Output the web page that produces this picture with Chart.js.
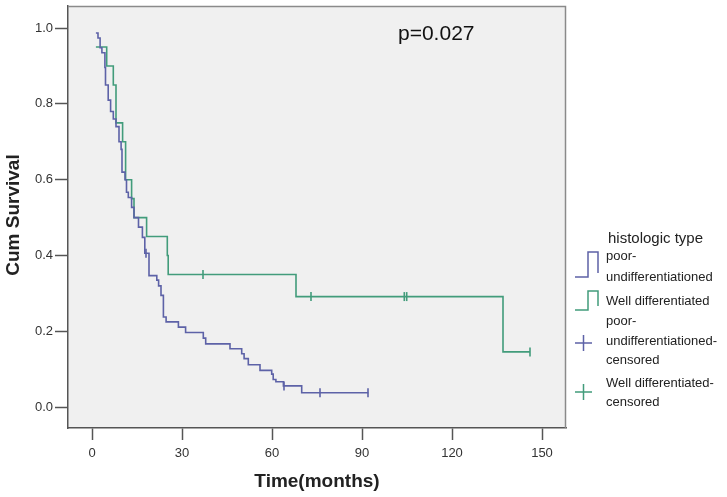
<!DOCTYPE html>
<html>
<head>
<meta charset="utf-8">
<script src="https://cdn.jsdelivr.net/npm/chart.js@4/dist/chart.umd.min.js"></script>
<style>
  html, body { margin: 0; padding: 0; background: #fff; }
  #wrap { width: 727px; height: 497px; }
</style>
</head>
<body>
<div id="wrap"><canvas id="km" width="727" height="497"></canvas></div>
<script>
// Kaplan-Meier steps (time in months, cumulative survival after the drop)
const poorTimes = [1.3, 2.0, 2.7, 3.3, 4.3, 4.5, 5.4, 6.2, 7.1, 8.0, 9.0, 9.7, 10.0, 11.0, 11.5, 12.1, 13.2, 14.0,
  15.5, 16.8, 17.6, 19.0, 21.6, 22.2, 23.0, 23.8, 24.7, 28.8, 31.2, 37.1, 37.9, 46.0, 49.9, 50.7, 52.1,
  56.0, 59.9, 60.4, 61.3, 63.8, 69.9, 92.1];
const poorSurvival = [0.987, 0.974, 0.948, 0.935, 0.896, 0.85, 0.81, 0.78, 0.76, 0.74, 0.70, 0.68, 0.62, 0.60, 0.567, 0.553, 0.527, 0.50,
  0.475, 0.448, 0.406, 0.347, 0.335, 0.32, 0.295, 0.238, 0.225, 0.211, 0.197, 0.182, 0.167, 0.154, 0.141, 0.128, 0.112,
  0.097, 0.087, 0.073, 0.067, 0.056, 0.038, 0.038];

const wellTimes = [1.3, 4.9, 7.1, 8.0, 10.2, 11.2, 13.2, 14.0, 18.2, 25.1, 25.4, 68.0, 137.0, 146.0];
const wellSurvival = [0.95, 0.90, 0.85, 0.75, 0.70, 0.60, 0.55, 0.50, 0.45, 0.40, 0.35, 0.2917, 0.1458, 0.1458];

const poorCensorTimes = [18, 64, 76, 92];
const poorCensorSurvival = [0.406, 0.056, 0.038, 0.038];
const wellCensorTimes = [37, 73, 104.1, 104.9, 146];
const wellCensorSurvival = [0.35, 0.2917, 0.2917, 0.2917, 0.1458];

const xTicks = [0, 30, 60, 90, 120, 150];
const yTicks = [0.0, 0.2, 0.4, 0.6, 0.8, 1.0];

const poorColor = '#5d62a7';
const wellColor = '#429c7b';

function pts(xs, ys) {
  return xs.map((x, i) => ({ x: x, y: ys[i] }));
}

const plotBg = {
  id: 'plotBg',
  beforeDraw(chart) {
    const a = chart.chartArea, ctx = chart.ctx;
    ctx.save();
    ctx.fillStyle = '#f0f0f0';
    ctx.fillRect(a.left, a.top, a.right - a.left, a.bottom - a.top);
    ctx.restore();
  },
  afterDraw(chart) {
    const a = chart.chartArea, ctx = chart.ctx;
    ctx.save();
    // frame top / right
    ctx.strokeStyle = '#8a8a8a';
    ctx.lineWidth = 1.5;
    ctx.beginPath();
    ctx.moveTo(a.left, a.top + 0.5);
    ctx.lineTo(a.right - 0.5, a.top + 0.5);
    ctx.lineTo(a.right - 0.5, a.bottom);
    ctx.stroke();

    // p value
    ctx.fillStyle = '#111';
    ctx.font = '21px "Liberation Sans", Arial, sans-serif';
    ctx.textBaseline = 'middle';
    ctx.textAlign = 'left';
    ctx.fillText('p=0.027', 398, 34);

    // axis titles
    ctx.font = 'bold 19px "Liberation Sans", Arial, sans-serif';
    ctx.fillStyle = '#222';
    ctx.textAlign = 'center';
    ctx.fillText('Time(months)', (a.left + a.right) / 2, 482);
    ctx.save();
    ctx.translate(14, 215);
    ctx.rotate(-Math.PI / 2);
    ctx.fillText('Cum Survival', 0, 0);
    ctx.restore();

    // legend
    ctx.textAlign = 'left';
    ctx.fillStyle = '#222';
    ctx.font = '15px "Liberation Sans", Arial, sans-serif';
    ctx.fillText('histologic type', 608, 239);
    ctx.font = '13px "Liberation Sans", Arial, sans-serif';
    const stepIcon = (color, top, bottom) => {
      ctx.strokeStyle = color;
      ctx.lineWidth = 1.5;
      ctx.beginPath();
      ctx.moveTo(575, bottom);
      ctx.lineTo(588, bottom);
      ctx.lineTo(588, top);
      ctx.lineTo(598, top);
      ctx.lineTo(598, bottom - 4);
      ctx.stroke();
    };
    const plusIcon = (color, cy) => {
      ctx.strokeStyle = color;
      ctx.lineWidth = 1.5;
      ctx.beginPath();
      ctx.moveTo(575, cy);
      ctx.lineTo(592, cy);
      ctx.moveTo(583.5, cy - 8);
      ctx.lineTo(583.5, cy + 8);
      ctx.stroke();
    };
    stepIcon(poorColor, 252, 277);
    ctx.fillText('poor-', 606, 256);
    ctx.fillText('undifferentiationed', 606, 277);
    stepIcon(wellColor, 291, 310);
    ctx.fillText('Well differentiated', 606, 301);
    plusIcon(poorColor, 343);
    ctx.fillText('poor-', 606, 321);
    ctx.fillText('undifferentiationed-', 606, 341);
    ctx.fillText('censored', 606, 360);
    plusIcon(wellColor, 392);
    ctx.fillText('Well differentiated-', 606, 383);
    ctx.fillText('censored', 606, 402);
    ctx.restore();
  }
};

new Chart(document.getElementById('km'), {
  type: 'scatter',
  data: {
    datasets: [
      {
        label: 'poor-undifferentiationed',
        data: pts(poorTimes, poorSurvival),
        showLine: true,
        stepped: 'before',
        borderColor: poorColor,
        borderWidth: 1.6,
        pointRadius: 0
      },
      {
        label: 'Well differentiated',
        data: pts(wellTimes, wellSurvival),
        showLine: true,
        stepped: 'before',
        borderColor: wellColor,
        borderWidth: 1.6,
        pointRadius: 0
      },
      {
        label: 'poor-undifferentiationed-censored',
        data: pts(poorCensorTimes, poorCensorSurvival),
        pointStyle: 'line',
        rotation: 90,
        pointRadius: 4.5,
        borderColor: poorColor,
        backgroundColor: poorColor,
        pointBorderWidth: 1.6
      },
      {
        label: 'Well differentiated-censored',
        data: pts(wellCensorTimes, wellCensorSurvival),
        pointStyle: 'line',
        rotation: 90,
        pointRadius: 4.5,
        borderColor: wellColor,
        backgroundColor: wellColor,
        pointBorderWidth: 1.6
      }
    ]
  },
  options: {
    responsive: false,
    animation: false,
    devicePixelRatio: 1,
    layout: { padding: { top: 5, right: 161, left: 0, bottom: 0 } },
    plugins: {
      legend: { display: false },
      tooltip: { enabled: false }
    },
    scales: {
      x: {
        type: 'linear',
        min: -8,
        max: 158,
        afterBuildTicks: (s) => { s.ticks = xTicks.map(v => ({ value: v })); },
        afterFit: (s) => { s.height = 69; s.paddingLeft = 0; s.paddingRight = 0; },
        grid: { drawOnChartArea: false, drawTicks: true, tickLength: 12, tickWidth: 1.5, tickColor: '#555' },
        border: { color: '#555', width: 1.5 },
        ticks: {
          color: '#333',
          padding: 6,
          maxRotation: 0,
          font: { size: 13, family: '"Liberation Sans", Arial, sans-serif' },
          callback: (v) => String(v)
        }
      },
      y: {
        type: 'linear',
        min: -0.055,
        max: 1.058,
        afterBuildTicks: (s) => { s.ticks = yTicks.map(v => ({ value: v })); },
        afterFit: (s) => { s.width = 68; s.paddingTop = 0; s.paddingBottom = 0; },
        grid: { drawOnChartArea: false, drawTicks: true, tickLength: 13, tickWidth: 1.5, tickColor: '#555' },
        border: { color: '#555', width: 1.5 },
        ticks: {
          color: '#333',
          padding: 2,
          font: { size: 13, family: '"Liberation Sans", Arial, sans-serif' },
          callback: (v) => Number(v).toFixed(1)
        }
      }
    }
  },
  plugins: [plotBg]
});
</script>
</body>
</html>
